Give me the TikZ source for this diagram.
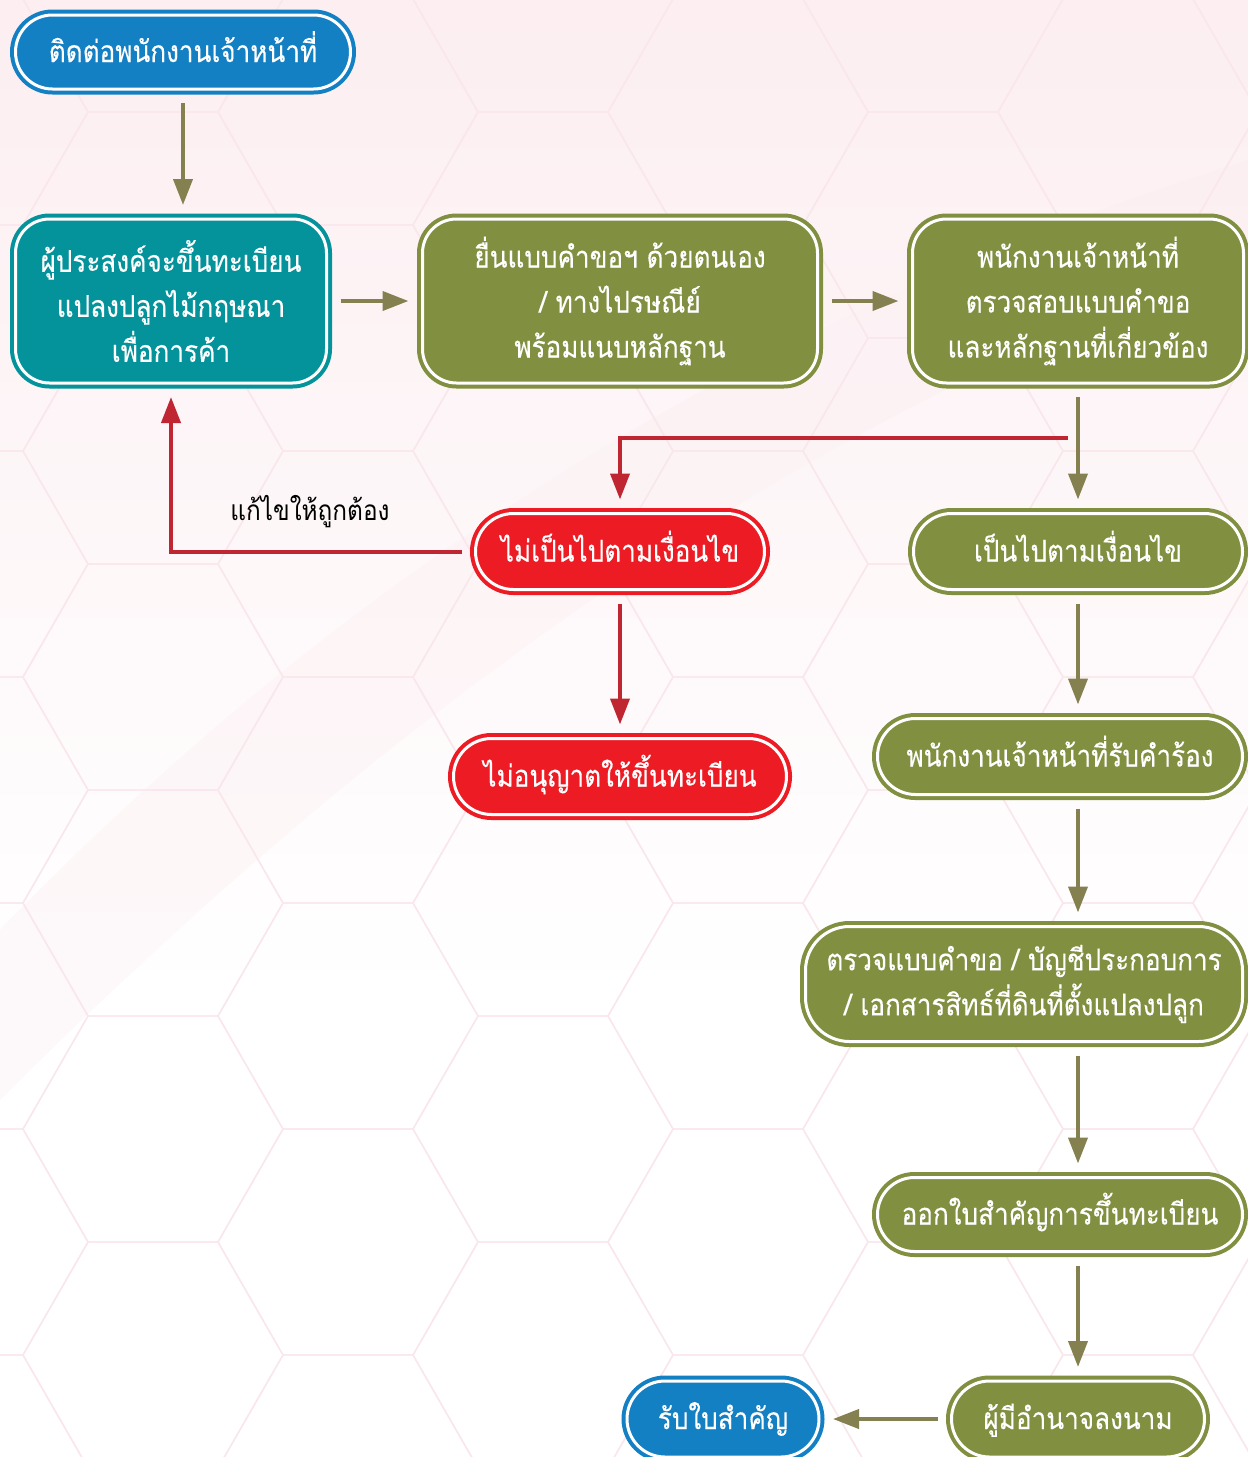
\documentclass[tikz,border=0pt]{standalone}
\usepackage{fontspec}
\newfontfamily\thaifont[Script=Thai,FakeStretch=0.87,FakeBold=0.25]{Loma}
\newfontfamily\thaiplain[Script=Thai,FakeStretch=0.87]{Loma}
\usetikzlibrary{shapes.misc,arrows.meta}
\definecolor{cblue}{HTML}{1480C4}
\definecolor{cteal}{HTML}{04939B}
\definecolor{colive}{HTML}{818F40}
\definecolor{cred}{HTML}{ED1C24}
\definecolor{aolive}{HTML}{858050}
\definecolor{ared}{HTML}{BF2631}
\definecolor{hexpink}{HTML}{FAE7EC}
\definecolor{bgpink}{HTML}{FCEEF1}
\begin{document}
\begin{tikzpicture}[x=0.5pt,y=-0.5pt,
  box/.style={draw=#1, fill=#1, double=white, double distance=1.5pt, line width=2pt,
    text=white, font=\thaifont\fontsize{15}{22.5}\selectfont, align=center,
    inner sep=0pt, outer sep=0pt},
  pill/.style={box=#1, rounded rectangle, text height=13pt, text depth=3pt},
  rbox/.style={box=#1, rectangle, rounded corners=17pt},
  oarrow/.style={draw=aolive, line width=2pt, -{Triangle[length=13pt,width=9.5pt]},
    shorten <=7pt, shorten >=7pt},
  rarrow/.style={draw=ared, line width=2pt, -{Triangle[length=13pt,width=9.5pt]},
    shorten <=7pt, shorten >=7pt},
  lbl/.style={font=\thaiplain\fontsize{14}{16}\selectfont, text=black, inner sep=0pt}
]
\useasboundingbox (0,0) rectangle (1248,1457);
% background
\fill[white] (0,0) rectangle (1248,1457);
\shade[top color=bgpink, bottom color=white] (0,0) rectangle (1248,1000);
\fill[bgpink, opacity=0.35] (0,930) .. controls (300,620) and (700,330) .. (1248,160)
  -- (1248,260) .. controls (800,420) and (400,700) .. (0,1100) -- cycle;
\begin{scope}
\clip (0,0) rectangle (1248,1457);
\foreach \i in {0,...,7} {
  \foreach \j in {-6,...,1} {
    \pgfmathsetmacro\cx{-42+195*\i}
    \pgfmathsetmacro\cy{1242+113*mod(\i,2)+226*\j}
    \draw[hexpink, line width=0.7pt] (\cx-65,\cy-113) -- (\cx+65,\cy-113) -- (\cx+130,\cy)
      -- (\cx+65,\cy+113) -- (\cx-65,\cy+113) -- (\cx-130,\cy) -- cycle;
  }
}
\end{scope}

% nodes
\node[pill=cblue, minimum width=167.5pt, minimum height=37pt] (n1) at (183,52) {ติดต่อพนักงานเจ้าหน้าที่};
\node[rbox=cteal, minimum width=155.5pt, minimum height=82pt] (n2) at (171,301)
  {ผู้ประสงค์จะขึ้นทะเบียน\\แปลงปลูกไม้กฤษณา\\เพื่อการค้า};
\node[rbox=colive, minimum width=197.5pt, minimum height=82pt] (n3) at (620,301)
  {ยื่นแบบคำขอฯ ด้วยตนเอง\\/ ทางไปรษณีย์\\พร้อมแนบหลักฐาน};
\node[rbox=colive, minimum width=165.5pt, minimum height=82pt] (n4) at (1078,301)
  {พนักงานเจ้าหน้าที่\\ตรวจสอบแบบคำขอ\\และหลักฐานที่เกี่ยวข้อง};
\node[pill=cred, minimum width=144.5pt, minimum height=38pt] (n5) at (620,551.5) {ไม่เป็นไปตามเงื่อนไข};
\node[pill=cred, minimum width=166.5pt, minimum height=38pt] (n6) at (620,776.5) {ไม่อนุญาตให้ขึ้นทะเบียน};
\node[pill=colive, minimum width=164.5pt, minimum height=38pt] (n7) at (1078,551.5) {เป็นไปตามเงื่อนไข};
\node[pill=colive, minimum width=182.5pt, minimum height=38pt] (n8) at (1060,756.5) {พนักงานเจ้าหน้าที่รับคำร้อง};
\node[rbox=colive, rounded corners=22pt, minimum width=218.5pt, minimum height=57.5pt] (n9) at (1024,984)
  {ตรวจแบบคำขอ / บัญชีประกอบการ\\/ เอกสารสิทธ์ที่ดินที่ตั้งแปลงปลูก};
\node[pill=colive, minimum width=182.5pt, minimum height=37pt] (n10) at (1060,1214.5) {ออกใบสำคัญการขึ้นทะเบียน};
\node[pill=colive, minimum width=126.5pt, minimum height=38pt] (n11) at (1078,1419) {ผู้มีอำนาจลงนาม};
\node[pill=cblue, minimum width=96pt, minimum height=38pt] (n12) at (723,1419) {รับใบสำคัญ};
\node[lbl] (fix) at (310,512) {แก้ไขให้ถูกต้อง};

\coordinate (col) at (1078,0);
\coordinate (rs) at (1068,438);

% connectors
\draw[oarrow] (n1.south) -- (n1.south |- n2.north);
\draw[oarrow] (n2.east) -- (n3.west);
\draw[oarrow] (n3.east) -- (n4.west);
\draw[oarrow] (n4.south) -- (n7.north);
\draw[rarrow, shorten <=0pt] (rs) -| (n5.north);
\draw[rarrow] (n5.west) -| (n2.south);
\draw[rarrow] (n5.south) -- (n6.north);
\draw[oarrow] (n7.south) -- (col |- n8.north);
\draw[oarrow] (col |- n8.south) -- (col |- n9.north);
\draw[oarrow] (col |- n9.south) -- (col |- n10.north);
\draw[oarrow] (col |- n10.south) -- (n11.north);
\draw[oarrow] (n11.west) -- (n12.east);
\end{tikzpicture}
\end{document}
